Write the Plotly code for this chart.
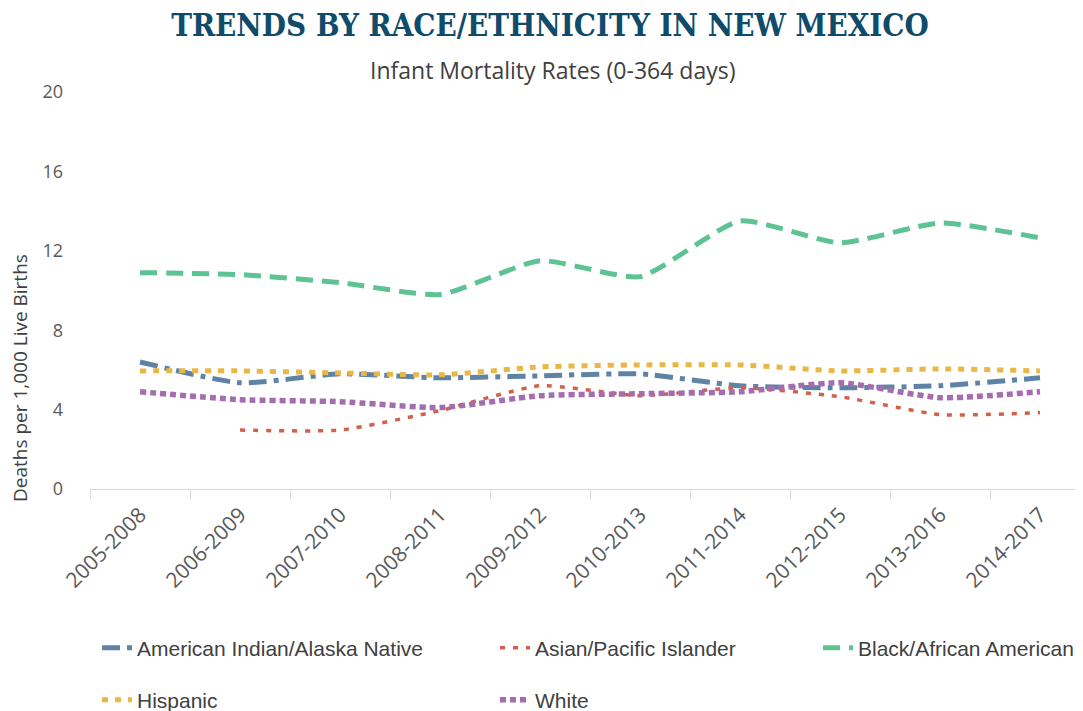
import plotly.graph_objects as go

periods = ["2005-2008", "2006-2009", "2007-2010", "2008-2011", "2009-2012",
           "2010-2013", "2011-2014", "2012-2015", "2013-2016", "2014-2017"]

aian = [6.4, 5.35, 5.8, 5.6, 5.7, 5.8, 5.2, 5.1, 5.2, 5.6]
asian = [None, 2.97, 2.97, 3.95, 5.2, 4.7, 5.1, 4.65, 3.75, 3.85]
black = [10.9, 10.8, 10.4, 9.8, 11.5, 10.7, 13.5, 12.4, 13.4, 12.65]
hispanic = [5.95, 5.95, 5.85, 5.75, 6.15, 6.25, 6.25, 5.95, 6.05, 5.95]
white = [4.9, 4.5, 4.4, 4.1, 4.7, 4.8, 4.9, 5.35, 4.6, 4.9]

series = [
    ("American Indian/Alaska Native", aian, "#5f83a5", 5, "18px,7px,5px,7px", "legend"),
    ("Asian/Pacific Islander", asian, "#d2604b", 3.5, "5px,8px", "legend2"),
    ("Black/African American", black, "#5ec394", 5, "17px,9px", "legend3"),
    ("Hispanic", hispanic, "#e9b745", 5, "6px,7px", "legend4"),
    ("White", white, "#a56caf", 5.5, "6px,4px", "legend5"),
]

fig = go.Figure()
for name, vals, color, w, dash, lg in series:
    fig.add_trace(go.Scatter(
        x=periods, y=vals, name=name, mode="lines",
        line=dict(color=color, width=w, dash=dash, shape="spline", smoothing=0.55),
        connectgaps=False, legend=lg,
    ))

# page body has an 8px margin, so the figure is offset by 8px in the window
OFF = 8
W, H = 1083 - OFF, 711 - OFF
legend_pos = {
    "legend": (97, 648), "legend2": (495, 648), "legend3": (818, 648),
    "legend4": (97, 700), "legend5": (495, 700),
}
legend_font = dict(family="Liberation Sans Narrow, Arial Narrow, sans-serif", size=21, color="#404040")
legends = {}
for k, (px, py) in legend_pos.items():
    legends[k] = dict(xref="container", yref="container", x=(px - OFF) / W, y=1 - (py - OFF) / H,
                      xanchor="left", yanchor="middle", font=legend_font,
                      bgcolor="rgba(0,0,0,0)", itemwidth=30)

PL, PT, PW, PH = 90 - OFF, 92 - OFF, 993, 397

fig.update_layout(
    width=W, height=H,
    margin=dict(l=PL, r=W - PL - PW, t=PT, b=H - PT - PH, autoexpand=False),
    paper_bgcolor="white", plot_bgcolor="white",
    title=dict(text="<b>TRENDS BY RACE/ETHNICITY IN NEW MEXICO</b>",
               font=dict(family="DejaVu Serif Condensed, DejaVu Serif, serif", size=31, color="#0f4b6b"),
               x=(550 - OFF) / W, xanchor="center", y=1 - (25 - OFF) / H, yanchor="middle"),
    showlegend=True,
    **legends,
    annotations=[
        dict(text="Infant Mortality Rates (0-364 days)", xref="paper", yref="paper",
             x=(552 - 90) / PW, y=(489 - 70) / PH, showarrow=False,
             font=dict(family="Open Sans, sans-serif", size=23, color="#404040"),
             xanchor="center", yanchor="middle"),
        dict(text="Deaths per 1,000 Live Births", xref="paper", yref="paper",
             x=(20 - 90) / PW, y=(489 - 378) / PH, showarrow=False, textangle=-90,
             font=dict(family="Open Sans, sans-serif", size=19, color="#404040"),
             xanchor="center", yanchor="middle"),
    ],
)

fig.update_xaxes(
    type="category", range=[-0.5, 9.43], tickson="boundaries",
    ticks="outside", ticklen=9, tickcolor="#d9d9d9", tickwidth=1.3,
    showline=True, linecolor="#d9d9d9", linewidth=1.3, showgrid=False,
    tickangle=-45, ticklabelstandoff=4,
    tickfont=dict(family="Open Sans, sans-serif", size=21, color="#595959"),
)
fig.update_yaxes(
    range=[0, 20], tickvals=[0, 4, 8, 12, 16, 20], showgrid=False, zeroline=False,
    showline=False, ticks="", ticklabelstandoff=26,
    tickfont=dict(family="Open Sans, sans-serif", size=18, color="#595959"),
)

fig.write_html("out.html")
